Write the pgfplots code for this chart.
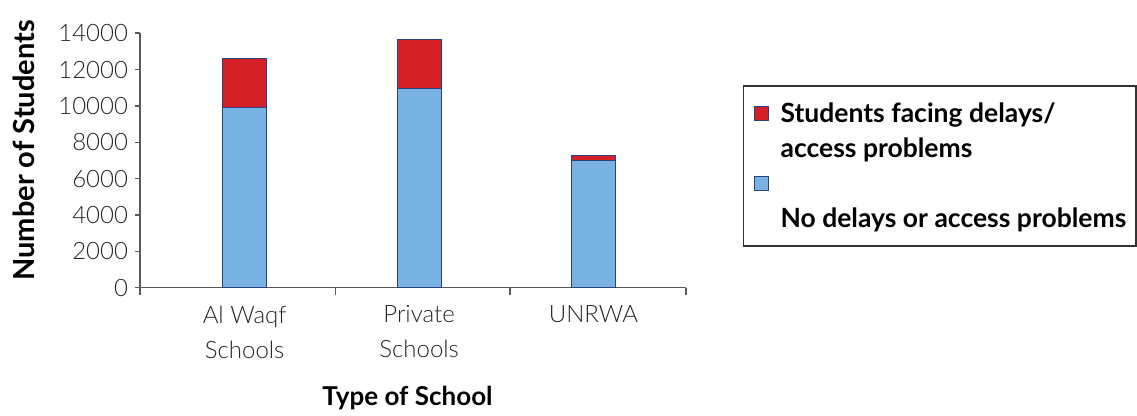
\documentclass[border=0pt]{standalone}
\usepackage{fontspec}
\setmainfont{Lato}
\newfontfamily\lightfont{Lato Light}
\usepackage{pgfplots}
\pgfplotsset{compat=1.18}
\definecolor{barred}{RGB}{213,32,39}
\definecolor{barblue}{RGB}{120,178,226}
\definecolor{edge}{RGB}{45,65,130}
\definecolor{axisgray}{RGB}{90,90,90}
\begin{document}
\begin{tikzpicture}
\begin{axis}[
  at={(70pt,64.15pt)}, anchor=south west,
  scale only axis, width=273pt, height=127.2pt,
  ybar stacked, bar width=22pt,
  xmin=-0.6, xmax=2.53, ymin=0, ymax=14000,
  axis x line*=bottom, axis y line*=left,
  axis line style={axisgray, line width=0.8pt},
  tick style={axisgray, line width=0.8pt},
  xtick={0,1,2},
  xticklabels={{Al Waqf\\Schools},{Private\\Schools},{UNRWA}},
  major x tick style={draw=none},
  minor xtick={-0.6,0.52,1.52,2.53},
  tick align=outside,
  major tick length=2.5pt, minor tick length=3.5pt,
  ytick={0,2000,...,14000},
  scaled y ticks=false,
  /pgf/number format/assume math mode=true,
  yticklabel style={/pgf/number format/1000 sep={}, font=\lightfont\fontsize{12}{12}\selectfont, text=black!85},
  xticklabel style={align=center, yshift=-3pt, font=\lightfont\fontsize{12}{17.5}\selectfont, text=black!85},
  xlabel={Type of School},
  xlabel style={at={(axis description cs:0.49,-0.434)}, anchor=center, font=\bfseries\fontsize{13}{15}\selectfont},
  ylabel={Number of Students},
  ylabel style={at={(axis description cs:-0.212,0.0)}, anchor=west, font=\bfseries\fontsize{14.5}{16}\selectfont},
  legend style={at={(axis description cs:1.104,0.797)}, anchor=north west,
    draw=black!80, line width=0.8pt, inner sep=5pt, row sep=0pt, column sep=6pt,
    font=\bfseries\fontsize{13.25}{15}\selectfont,
    nodes={inner sep=0pt, text height=13.25pt, text depth=4.25pt}},
  legend cell align=left,
  legend image code/.code={\draw[#1, line width=0.5pt] (0pt,-3.5pt) rectangle (7pt,3.5pt);},
]
\addlegendimage{fill=barred, draw=edge}
\addlegendentry{Students facing delays/}
\addlegendimage{empty legend}
\addlegendentry{access problems}
\addlegendimage{fill=barblue, draw=edge}
\addlegendentry{}
\addlegendimage{empty legend}
\addlegendentry{No delays or access problems}
\addplot[fill=barblue, draw=edge, line width=0.5pt] coordinates {(0,9930) (1,10970) (2,7000)};
\addplot[fill=barred, draw=edge, line width=0.5pt] coordinates {(0,2690) (1,2700) (2,250)};
\end{axis}
\pgfresetboundingbox
\useasboundingbox (0,0) rectangle (568.5pt,208pt);
\end{tikzpicture}
\end{document}
